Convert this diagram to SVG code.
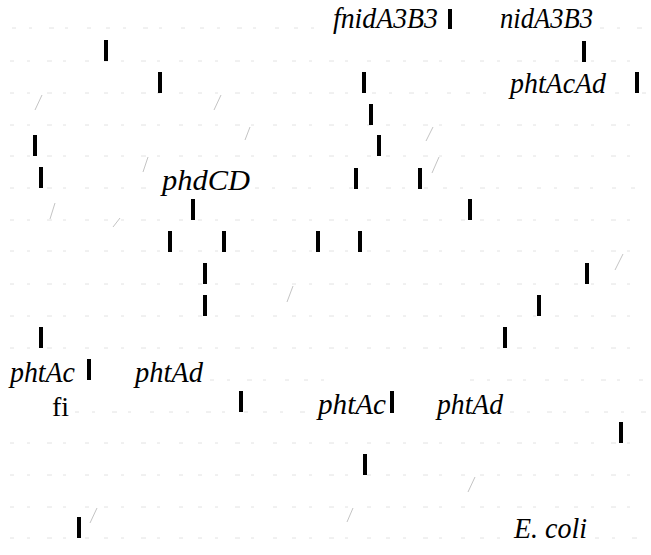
<svg xmlns="http://www.w3.org/2000/svg" width="651" height="555" viewBox="0 0 651 555">
<defs>
<style>
.bg{fill:#ffffff}
.row{stroke:#e2e2e2;stroke-width:1;stroke-dasharray:4 13 3 17 5 11 3 19 4 15;fill:none}
.slash{stroke:#c4c4c4;stroke-width:1;fill:none}
.bar{fill:#000000}
.lbl{font-family:"Liberation Serif","Times New Roman",serif;font-style:italic;font-size:29px;fill:#000000}
.up{font-family:"Liberation Serif","Times New Roman",serif;font-size:28px;fill:#000000}
</style>
</defs>
<rect class="bg" x="0" y="0" width="651" height="555"/>
<g id="connectors">
<path class="row" d="M12 28H325M600 28H648"/>
<path class="row" d="M10 61H648"/>
<path class="row" d="M10 93H350M372 93H500M615 93H630M642 93H648"/>
<path class="row" d="M10 125H648"/>
<path class="row" d="M10 156H648"/>
<path class="row" d="M10 188H155M255 188H648"/>
<path class="row" d="M10 220H648"/>
<path class="row" d="M10 251H648"/>
<path class="row" d="M10 284H648"/>
<path class="row" d="M10 316H648"/>
<path class="row" d="M10 348H648"/>
<path class="row" d="M210 380H330M470 380H648"/>
<path class="row" d="M75 412H310M510 412H648"/>
<path class="row" d="M10 443H648"/>
<path class="row" d="M10 475H648"/>
<path class="row" d="M10 507H648"/>
<path class="row" d="M10 538H505M595 538H648"/>
<path class="slash" d="M42 95L35 110M221 95L214 110M250 127L245 140M433 127L426 141M148 157L143 172M439 157L432 173M55 203L50 219M120 218L113 227M623 254L615 270M293 286L287 302M97 508L90 523M475 477L468 492M353 508L347 522"/>
</g>
<g id="bars">
<rect class="bar" x="104" y="40" width="4" height="21"/>
<rect class="bar" x="158" y="72" width="4" height="21"/>
<rect class="bar" x="33" y="135" width="4" height="21"/>
<rect class="bar" x="39" y="167" width="4" height="21"/>
<rect class="bar" x="191" y="199" width="4" height="21"/>
<rect class="bar" x="168" y="231" width="4" height="21"/>
<rect class="bar" x="222" y="231" width="4" height="21"/>
<rect class="bar" x="316" y="231" width="4" height="21"/>
<rect class="bar" x="203" y="263" width="4" height="21"/>
<rect class="bar" x="203" y="295" width="4" height="21"/>
<rect class="bar" x="39" y="327" width="4" height="21"/>
<rect class="bar" x="87" y="359" width="4" height="21"/>
<rect class="bar" x="239" y="391" width="4" height="21"/>
<rect class="bar" x="77" y="517" width="4" height="21"/>
<rect class="bar" x="448" y="9" width="4" height="20"/>
<rect class="bar" x="582" y="41" width="4" height="21"/>
<rect class="bar" x="362" y="72" width="4" height="21"/>
<rect class="bar" x="635" y="72" width="4" height="21"/>
<rect class="bar" x="369" y="104" width="4" height="21"/>
<rect class="bar" x="377" y="135" width="4" height="21"/>
<rect class="bar" x="354" y="168" width="4" height="21"/>
<rect class="bar" x="418" y="168" width="4" height="21"/>
<rect class="bar" x="468" y="199" width="4" height="21"/>
<rect class="bar" x="358" y="231" width="4" height="21"/>
<rect class="bar" x="585" y="263" width="4" height="21"/>
<rect class="bar" x="537" y="295" width="4" height="21"/>
<rect class="bar" x="503" y="327" width="4" height="21"/>
<rect class="bar" x="390" y="391" width="4" height="22"/>
<rect class="bar" x="619" y="422" width="4" height="21"/>
<rect class="bar" x="363" y="454" width="4" height="21"/>
</g>
<g id="label-fnidA3B3"><text class="lbl" x="333" y="28" textLength="105" lengthAdjust="spacingAndGlyphs">fnidA3B3</text></g>
<g id="label-nidA3B3"><text class="lbl" x="500" y="28" textLength="93" lengthAdjust="spacingAndGlyphs">nidA3B3</text></g>
<g id="label-phtAcAd"><text class="lbl" x="510" y="93" textLength="96" lengthAdjust="spacingAndGlyphs">phtAcAd</text></g>
<g id="label-phdCD"><text class="lbl" x="162" y="190" textLength="88" lengthAdjust="spacingAndGlyphs">phdCD</text></g>
<g id="label-phtAc-1"><text class="lbl" x="10" y="382" textLength="65" lengthAdjust="spacingAndGlyphs">phtAc</text></g>
<g id="label-phtAd-1"><text class="lbl" x="135" y="382" textLength="68" lengthAdjust="spacingAndGlyphs">phtAd</text></g>
<g id="label-fi"><text class="up" x="52" y="416">fi</text></g>
<g id="label-phtAc-2"><text class="lbl" x="318" y="414" textLength="68" lengthAdjust="spacingAndGlyphs">phtAc</text></g>
<g id="label-phtAd-2"><text class="lbl" x="437" y="414" textLength="66" lengthAdjust="spacingAndGlyphs">phtAd</text></g>
<g id="label-ecoli"><text class="lbl" x="514" y="538" textLength="73" lengthAdjust="spacingAndGlyphs">E. coli</text></g>
</svg>
